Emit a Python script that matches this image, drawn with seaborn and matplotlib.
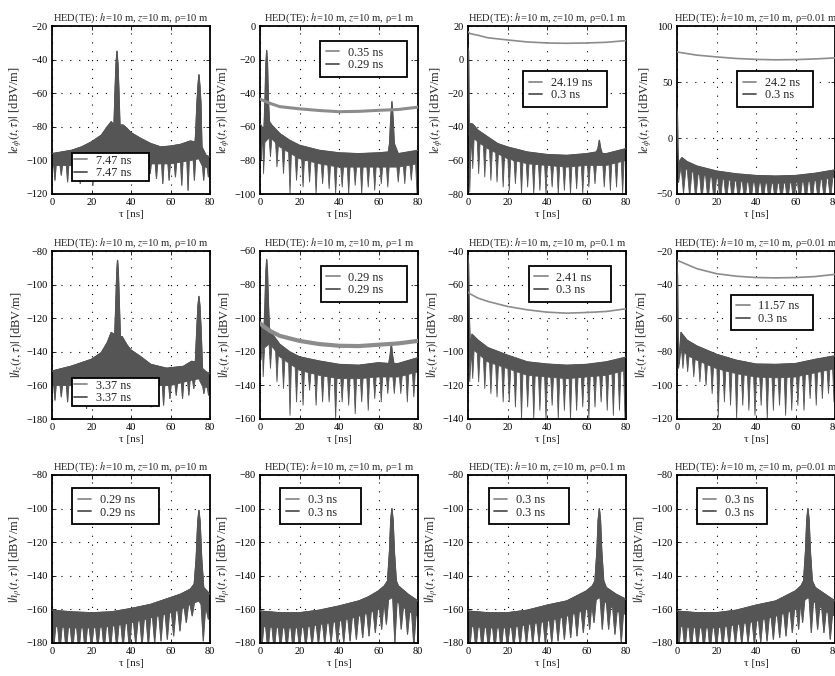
import numpy as np
import matplotlib
matplotlib.use("Agg")
import matplotlib.pyplot as plt
from matplotlib.lines import Line2D
import seaborn as sns

# ------------------------------------------------------------------
# Axis settings
# ------------------------------------------------------------------
TAU_TICKS = [0, 20, 40, 60, 80]
RHO_VALUES = ["10", "1", "0.1", "0.01"]
ROW_YLABELS = [r"$|e_{\phi}(t,\tau)|$ [dBV/m]",
               r"$|h_{z}(t,\tau)|$ [dBV/m]",
               r"$|h_{\rho}(t,\tau)|$ [dBV/m]"]
YLIMS = [[(-120, -20), (-100, 0), (-80, 20), (-50, 100)],
         [(-180, -80), (-160, -60), (-140, -40), (-120, -20)],
         [(-180, -80), (-180, -80), (-180, -80), (-180, -80)]]
YSTEPS = [[20, 20, 20, 50], [20, 20, 20, 20], [20, 20, 20, 20]]
LEGEND_LABELS = [[("7.47 ns", "7.47 ns"), ("0.35 ns", "0.29 ns"), ("24.19 ns", "0.3 ns"), ("24.2 ns", "0.3 ns")],
                 [("3.37 ns", "3.37 ns"), ("0.29 ns", "0.29 ns"), ("2.41 ns", "0.3 ns"), ("11.57 ns", "0.3 ns")],
                 [("0.29 ns", "0.29 ns"), ("0.3 ns", "0.3 ns"), ("0.3 ns", "0.3 ns"), ("0.3 ns", "0.3 ns")]]

# ------------------------------------------------------------------
# e_phi, rho = 10 m
# ------------------------------------------------------------------
ep10_hi_t = [0, 5, 10, 15, 20, 25, 28, 30, 31.4, 31.9, 32.4, 32.9, 33.4, 33.9, 34.4, 36, 38, 40, 45, 50, 55, 60, 65, 70,
             72.5, 72.9, 73.4, 73.9, 74.4, 74.9, 75.4, 75.9, 78, 80]
ep10_hi_v = [-96, -95, -94, -92, -89, -85, -80, -77, -79, -60, -43, -35, -43, -60, -79, -79, -81, -83.5, -87, -90, -92,
             -91.5, -90.5, -88.5, -89, -80, -66, -56, -49, -56, -66, -92, -97, -98]
ep10_lo_t = [0, 10, 20, 26, 30, 33, 36, 40, 50, 60, 70, 74.4, 76, 80]
ep10_lo_v = [-103, -103, -102, -101, -100, -100, -100, -101, -102, -102, -100, -99, -103, -105]
ep10_dip_t = [1.5, 4.7, 7.9, 11.1, 14.3, 17.5, 20.7, 23.9, 27.1, 36.9, 40.1, 43.3, 46.5, 49.7, 52.9, 56.1, 59.3,
              62.5, 65.7, 68.9, 72.1, 76.8, 79.2]
ep10_dip_v = [-112, -109, -113, -112, -114, -112, -115, -108, -106, -106, -108, -110, -112, -108, -111, -114, -112,
              -110, -115, -118, -112, -112, -110]

# ------------------------------------------------------------------
# e_phi, rho = 1 m
# ------------------------------------------------------------------
ep1_s_t = [0, 1, 3, 5, 10, 20, 30, 40, 50, 60, 70, 80]
ep1_s_v = [-43.5, -44, -45, -46, -48, -49.3, -50.3, -51, -50.8, -50.2, -49.7, -48.3]
ep1_hi_t = [0, 1, 2.0, 2.5, 3.0, 3.4, 3.8, 4.3, 4.8, 6, 10, 15, 20, 30, 40, 50, 60, 65, 65.6, 66.2, 66.8, 67.4, 68.0,
            70, 75, 80]
ep1_hi_v = [-58, -60, -62, -45, -22, -14.5, -22, -45, -57, -59, -64, -68, -71, -74, -75.5, -76, -75.5, -75, -70, -55,
            -45, -55, -70, -76, -75, -74]
ep1_lo_t = [0, 2, 5, 10, 20, 30, 40, 50, 60, 70, 80]
ep1_lo_v = [-68, -70, -66, -72, -79, -82, -84, -84, -84, -84, -82]
ep1_dip_t = [0.8, 1.8, 5.3, 8.6, 11.9, 15.2, 18.5, 21.8, 25.1, 28.4, 31.7, 35.0, 38.3, 41.6, 44.9, 48.2, 51.5, 54.8,
             58.1, 61.4, 64.7, 70.0, 73.3, 76.6, 79.5]
ep1_dip_v = [-80, -88, -78, -84, -88, -100, -92, -96, -93, -100, -94, -97, -100, -96, -100, -95, -100, -96, -98, -94,
             -96, -93, -94, -92, -100]

# ------------------------------------------------------------------
# e_phi, rho = 0.1 m
# ------------------------------------------------------------------
ep01_s_t = [0, 1, 5, 10, 20, 30, 40, 50, 60, 70, 80]
ep01_s_v = [16.5, 15.5, 14.5, 13, 11.7, 10.5, 9.9, 9.7, 9.9, 10.3, 11.3]
ep01_hi_t = [0, 0.3, 0.7, 1.2, 2.5, 5, 10, 15, 20, 30, 40, 50, 60, 65, 65.8, 66.5, 67.2, 68, 70, 80]
ep01_hi_v = [7, 5, -45, -38, -38.5, -42, -46, -50, -52, -55, -56.5, -57, -56, -55, -53, -48, -53, -56, -56, -53]
ep01_lo_t = [0, 1, 2, 5, 10, 20, 30, 40, 50, 60, 70, 80]
ep01_lo_v = [-50, -48, -46, -49, -53, -59, -62, -63, -64, -63, -63, -60]
ep01_dip_t = [0.9, 2.4, 5.4, 8.5, 11.6, 14.7, 17.8, 20.9, 24.0, 27.1, 30.2, 33.3, 36.4, 39.5, 42.6, 45.7, 48.8,
              51.9, 55.0, 58.1, 61.2, 64.3, 69.0, 72.1, 75.2, 78.3]
ep01_dip_v = [-79, -65, -68, -70, -72, -73, -76, -78, -74, -80, -76, -80, -78, -80, -76, -80, -78, -80, -77, -80,
              -76, -74, -76, -78, -76, -80]

# ------------------------------------------------------------------
# e_phi, rho = 0.01 m
# ------------------------------------------------------------------
ep001_s_t = [0, 1, 5, 10, 20, 30, 40, 50, 60, 70, 80]
ep001_s_v = [77, 76.5, 75.4, 74, 72.4, 71, 70.2, 69.8, 70, 70.6, 71.5]
ep001_hi_t = [0, 0.25, 0.5, 0.9, 1.5, 2.5, 5, 10, 20, 30, 40, 50, 60, 70, 80]
ep001_hi_v = [26, 20, -10, -30, -20, -17.5, -21, -25, -29.5, -32, -33.5, -34, -33.5, -31.5, -28.5]
ep001_lo_t = [0, 2, 5, 10, 20, 30, 40, 50, 60, 70, 80]
ep001_lo_v = [-36, -26, -28, -32, -36, -38.5, -40, -40.5, -40, -38, -35]
ep001_dip_t = [0.8, 3.3, 6.4, 9.5, 12.6, 15.7, 18.8, 21.9, 25.0, 28.1, 31.2, 34.3, 37.4, 40.5, 43.6, 46.7, 49.8,
               52.9, 56.0, 59.1, 62.2, 65.3, 68.4, 71.5, 74.6, 77.7]
ep001_dip_v = [-40, -50, -53, -56, -57, -57, -58, -58, -58, -58, -58, -58, -58, -58, -58, -58, -58, -58, -58, -58,
               -58, -58, -58, -57, -57, -56]

# ------------------------------------------------------------------
# h_z, rho = 10 m
# ------------------------------------------------------------------
hz10_hi_t = [0, 5, 10, 15, 20, 25, 28, 30, 31.8, 32.3, 32.8, 33.2, 33.6, 34.1, 34.6, 35.5, 38, 40, 45, 50, 58, 66.5,
             70.7, 72.6, 73.4, 73.9, 74.4, 74.9, 75.4, 76.2, 78, 80]
hz10_hi_v = [-151.5, -150, -148.5, -146.5, -144.5, -140.5, -134.5, -128.5, -130, -112, -93, -85.5, -93, -112, -131,
             -131, -136, -139, -143, -147.5, -149.8, -148.7, -145.7, -146, -125, -113, -107, -113, -125, -150, -152,
             -153]
hz10_lo_t = [0, 10, 20, 26, 30, 33, 36, 40, 50, 60, 70, 74.4, 76, 80]
hz10_lo_v = [-160, -160, -158, -156, -155, -155, -156, -157, -160, -160, -157, -156, -160, -162]
hz10_dip_t = [1.5, 4.7, 7.9, 11.1, 14.3, 17.5, 20.7, 23.9, 27.1, 37.3, 40.5, 43.7, 46.9, 50.1, 53.3, 56.5, 59.7,
              62.9, 66.1, 69.3, 71.8, 76.9, 79.3]
hz10_dip_v = [-169, -167, -170, -171, -172, -174, -170, -168, -164, -164, -166, -168, -172, -173, -170, -172, -168,
              -166, -168, -166, -162, -165, -166]

# ------------------------------------------------------------------
# h_z, rho = 1 m
# ------------------------------------------------------------------
hz1_s_t = [0, 2, 5, 10, 20, 30, 40, 50, 60, 70, 80]
hz1_s_v = [-103, -105, -107.5, -110.5, -113.5, -115.4, -116.4, -116.6, -115.8, -115, -113.5]
hz1_hi_t = [0, 1, 2.0, 2.5, 3.0, 3.4, 3.8, 4.3, 4.8, 6, 10, 15, 20, 30, 40, 50, 60, 65.2, 65.9, 66.5, 67.1, 67.8,
            70, 80]
hz1_hi_v = [-103, -106, -108, -92, -72, -65, -72, -92, -106, -109, -115.5, -120, -123, -125.5, -127.5, -128,
            -126.5, -127, -122, -115, -122, -127, -127, -123.5]
hz1_lo_t = [0, 2, 5, 10, 20, 30, 40, 50, 60, 70, 80]
hz1_lo_v = [-115, -118, -115, -123, -131, -134, -136, -136, -135, -135, -132]
hz1_dip_t = [0.6, 1.6, 5.3, 8.6, 11.9, 15.2, 18.5, 21.8, 25.1, 28.4, 31.7, 35.0, 38.3, 41.6, 44.9, 48.2, 51.5, 54.8,
             58.1, 61.4, 64.7, 68.0, 71.3, 74.6, 77.9]
hz1_dip_v = [-125, -135, -130, -138, -142, -158, -150, -152, -143, -152, -150, -150, -160, -150, -152, -157, -150,
             -155, -148, -150, -145, -145, -145, -150, -147]

# ------------------------------------------------------------------
# h_z, rho = 0.1 m
# ------------------------------------------------------------------
hz01_s_t = [0, 1, 5, 10, 20, 30, 40, 50, 60, 70, 80]
hz01_s_v = [-64.5, -65.5, -68, -70, -73, -75, -76.4, -77, -76.6, -76, -74.4]
hz01_hi_t = [0, 0.3, 0.7, 1.2, 2, 5, 10, 20, 30, 40, 50, 60, 70, 80]
hz01_hi_v = [-42.5, -48, -80, -98, -89.5, -93, -97.5, -102, -106, -107.3, -108, -107.5, -106, -103.2]
hz01_lo_t = [0, 1, 2, 5, 10, 20, 30, 40, 50, 60, 70, 80]
hz01_lo_v = [-100, -105, -98, -101, -106, -110, -114, -115, -116, -115, -114, -111]
hz01_dip_t = [0.9, 2.4, 5.4, 8.5, 11.6, 14.7, 17.8, 20.9, 24.0, 27.1, 30.2, 33.3, 36.4, 39.5, 42.6, 45.7, 48.8,
              51.9, 55.0, 58.1, 61.2, 64.3, 67.4, 70.5, 73.6, 76.7, 79.5]
hz01_dip_v = [-118, -116, -118, -122, -125, -127, -130, -130, -133, -140, -133, -140, -135, -140, -132, -140, -135,
              -140, -135, -133, -140, -133, -130, -135, -138, -135, -140]

# ------------------------------------------------------------------
# h_z, rho = 0.01 m
# ------------------------------------------------------------------
hz001_s_t = [0, 1, 5, 10, 20, 30, 40, 50, 60, 70, 80]
hz001_s_v = [-25.5, -26, -28, -30.5, -33.5, -35, -35.8, -36, -35.8, -35.2, -33.9]
hz001_hi_t = [0, 0.3, 0.6, 1.0, 2, 5, 10, 20, 30, 40, 50, 60, 70, 80]
hz001_hi_v = [-26, -35, -70, -87, -68.5, -73, -76.5, -81.5, -85, -87.3, -87.5, -87, -84.5, -82.4]
hz001_lo_t = [0, 1, 2, 5, 10, 20, 30, 40, 50, 60, 70, 80]
hz001_lo_v = [-85, -90, -78, -82, -85, -90, -93, -95, -95.5, -95, -92.5, -90]
hz001_dip_t = [0.8, 3.0, 5.4, 8.5, 11.6, 14.7, 17.8, 20.9, 24.0, 27.1, 30.2, 33.3, 36.4, 39.5, 42.6, 45.7, 48.8,
               51.9, 55.0, 58.1, 61.2, 64.3, 67.4, 70.5, 73.6, 76.7, 79.5]
hz001_dip_v = [-90, -90, -92, -95, -98, -100, -105, -119, -110, -112, -120, -112, -115, -118, -112, -120, -115,
               -112, -118, -115, -112, -115, -108, -112, -108, -105, -110]

# ------------------------------------------------------------------
# h_rho, rho = 10 m
# ------------------------------------------------------------------
hr10_hi_t = [0, 10, 20, 30, 40, 50, 60, 65, 70, 72.0, 73.0, 73.8, 74.4, 75.0, 75.8, 76.8, 80]
hr10_hi_v = [-160.5, -161.5, -162, -161.5, -159.5, -157, -153, -151, -148, -145, -130, -108, -101, -108, -130, -147,
             -151]
hr10_lo_t = [0, 10, 20, 30, 40, 50, 60, 65, 70, 74.4, 77, 80]
hr10_lo_v = [-170, -171, -171, -170, -168, -165, -162, -160, -157, -155, -160, -160]
hr10_dip_t = [0.8, 4.0, 7.2, 10.4, 13.6, 16.8, 20.0, 23.2, 26.4, 29.6, 32.8, 36.0, 39.2, 42.4, 45.6, 48.8, 52.0,
              55.2, 58.4, 61.6, 64.8, 68.0, 71.0, 76.6, 79.2]
hr10_dip_v = [-184, -185, -185, -185, -185, -185, -184, -183, -184, -184, -183, -183, -184, -181, -182, -182, -180,
              -179, -178, -176, -173, -168, -164, -179, -166]

# ------------------------------------------------------------------
# h_rho, rho = 1 m
# ------------------------------------------------------------------
hr1_hi_t = [0, 10, 20, 30, 40, 50, 55, 60, 63, 64.6, 65.6, 66.2, 66.8, 67.4, 68.0, 69.0, 70, 75, 80]
hr1_hi_v = [-161, -162, -162, -160.5, -158, -155, -152.5, -149, -146, -143, -125, -107, -100, -107, -125, -143, -146,
            -151, -155]
hr1_lo_t = [0, 10, 20, 30, 40, 50, 60, 64, 66.8, 70, 75, 80]
hr1_lo_v = [-170, -171, -171, -169, -167, -164, -160, -155, -153, -156, -161, -164]
hr1_dip_t = [0.8, 4.0, 7.2, 10.4, 13.6, 16.8, 20.0, 23.2, 26.4, 29.6, 32.8, 36.0, 39.2, 42.4, 45.6, 48.8, 52.0,
             55.2, 58.4, 61.6, 64.0, 68.3, 71.5, 74.7, 77.9]
hr1_dip_v = [-185, -185, -185, -184, -184, -185, -183, -183, -182, -181, -181, -180, -181, -180, -179, -178, -177,
             -176, -174, -172, -169, -180, -172, -175, -182]

# ------------------------------------------------------------------
# h_rho, rho = 0.1 m
# ------------------------------------------------------------------
hr01_hi_t = [0, 10, 20, 30, 40, 50, 55, 60, 63, 64.3, 65.3, 65.9, 66.5, 67.1, 67.7, 68.7, 70, 75, 80]
hr01_hi_v = [-161, -162, -162, -160.5, -157.5, -155, -152, -149, -146, -143, -125, -107, -100, -107, -125, -143,
             -147, -151, -154]
hr01_lo_t = [0, 10, 20, 30, 40, 50, 60, 64, 66.5, 70, 75, 80]
hr01_lo_v = [-170, -171, -171, -169, -167, -164, -160, -155, -153, -156, -161, -163]
hr01_dip_t = [0.8, 4.0, 7.2, 10.4, 13.6, 16.8, 20.0, 23.2, 26.4, 29.6, 32.8, 36.0, 39.2, 42.4, 45.6, 48.8, 52.0,
              55.2, 58.4, 61.6, 63.8, 68.0, 71.2, 74.4, 77.6]
hr01_dip_v = [-185, -184, -185, -184, -184, -185, -183, -183, -182, -181, -181, -180, -181, -180, -179, -178, -177,
              -176, -174, -172, -168, -172, -172, -175, -180]

# ------------------------------------------------------------------
# h_rho, rho = 0.01 m
# ------------------------------------------------------------------
hr001_hi_t = [0, 10, 20, 30, 40, 50, 55, 60, 62.8, 64.1, 65.1, 65.7, 66.3, 66.9, 67.5, 68.5, 70, 75, 80]
hr001_hi_v = [-161, -162, -162, -160.5, -157.5, -155, -152, -149, -146, -143, -125, -107, -100, -107, -125, -143,
              -147, -151, -155]
hr001_lo_t = [0, 10, 20, 30, 40, 50, 60, 64, 66.3, 70, 75, 80]
hr001_lo_v = [-170, -171, -171, -169, -167, -164, -160, -155, -153, -156, -161, -164]
hr001_dip_t = [0.8, 4.0, 7.2, 10.4, 13.6, 16.8, 20.0, 23.2, 26.4, 29.6, 32.8, 36.0, 39.2, 42.4, 45.6, 48.8, 52.0,
               55.2, 58.4, 61.6, 63.6, 68.0, 71.2, 74.4, 77.6]
hr001_dip_v = [-185, -184, -185, -184, -184, -185, -183, -183, -182, -181, -181, -180, -181, -180, -179, -178,
               -177, -176, -174, -172, -168, -174, -172, -174, -178]

# Table of panels (row, column) built from the arrays above
PANELS = [
    [dict(s=None, hi=(ep10_hi_t, ep10_hi_v), lo=(ep10_lo_t, ep10_lo_v), dip=(ep10_dip_t, ep10_dip_v), hw=0.6, slw=1.2),
     dict(s=(ep1_s_t, ep1_s_v), hi=(ep1_hi_t, ep1_hi_v), lo=(ep1_lo_t, ep1_lo_v), dip=(ep1_dip_t, ep1_dip_v), hw=0.7, slw=2.2),
     dict(s=(ep01_s_t, ep01_s_v), hi=(ep01_hi_t, ep01_hi_v), lo=(ep01_lo_t, ep01_lo_v), dip=(ep01_dip_t, ep01_dip_v), hw=0.7, slw=1.2),
     dict(s=(ep001_s_t, ep001_s_v), hi=(ep001_hi_t, ep001_hi_v), lo=(ep001_lo_t, ep001_lo_v), dip=(ep001_dip_t, ep001_dip_v), hw=1.2, slw=1.2)],
    [dict(s=None, hi=(hz10_hi_t, hz10_hi_v), lo=(hz10_lo_t, hz10_lo_v), dip=(hz10_dip_t, hz10_dip_v), hw=0.6, slw=1.2),
     dict(s=(hz1_s_t, hz1_s_v), hi=(hz1_hi_t, hz1_hi_v), lo=(hz1_lo_t, hz1_lo_v), dip=(hz1_dip_t, hz1_dip_v), hw=0.7, slw=3.0),
     dict(s=(hz01_s_t, hz01_s_v), hi=(hz01_hi_t, hz01_hi_v), lo=(hz01_lo_t, hz01_lo_v), dip=(hz01_dip_t, hz01_dip_v), hw=0.7, slw=1.2),
     dict(s=(hz001_s_t, hz001_s_v), hi=(hz001_hi_t, hz001_hi_v), lo=(hz001_lo_t, hz001_lo_v), dip=(hz001_dip_t, hz001_dip_v), hw=0.7, slw=1.2)],
    [dict(s=None, hi=(hr10_hi_t, hr10_hi_v), lo=(hr10_lo_t, hr10_lo_v), dip=(hr10_dip_t, hr10_dip_v), hw=1.1, slw=1.2),
     dict(s=None, hi=(hr1_hi_t, hr1_hi_v), lo=(hr1_lo_t, hr1_lo_v), dip=(hr1_dip_t, hr1_dip_v), hw=1.1, slw=1.2),
     dict(s=None, hi=(hr01_hi_t, hr01_hi_v), lo=(hr01_lo_t, hr01_lo_v), dip=(hr01_dip_t, hr01_dip_v), hw=1.1, slw=1.2),
     dict(s=None, hi=(hr001_hi_t, hr001_hi_v), lo=(hr001_lo_t, hr001_lo_v), dip=(hr001_dip_t, hr001_dip_v), hw=1.1, slw=1.2)],
]

# Legend boxes: (left, top, width) in axes fraction, and inner padding
LEGEND_BOXES = [[(0.127, 0.243, 0.487), (0.38, 0.91, 0.55), (0.35, 0.73, 0.53), (0.38, 0.73, 0.48)],
                [(0.127, 0.243, 0.553), (0.386, 0.91, 0.544), (0.386, 0.91, 0.52), (0.34, 0.74, 0.52)],
                [(0.127, 0.92, 0.553), (0.127, 0.92, 0.513), (0.13, 0.92, 0.51), (0.127, 0.92, 0.443)]]
LEGEND_PADS = [[0.12, 0.45, 0.45, 0.45], [0.12, 0.45, 0.45, 0.45], [0.45, 0.45, 0.45, 0.45]]

# ------------------------------------------------------------------
# Style
# ------------------------------------------------------------------
sns.set_theme(style="ticks")
plt.rcParams["font.family"] = ["Liberation Serif", "DejaVu Serif"]
plt.rcParams["mathtext.fontset"] = "stix"
plt.rcParams["axes.unicode_minus"] = True

DARK = "#555555"
LIGHT = "#8c8c8c"

FIG_W, FIG_H = 835, 676
COL_LEFT = [52, 260, 468, 677]
ROW_TOP = [26, 251, 475]
AX_W, AX_H = 158, 168


def lower_outline(lo_t, lo_v, dip_t, dip_v, hw):
    """Lower outline of the oscillating band: envelope knots plus the narrow dips."""
    lo_t = np.asarray(lo_t, float)
    lo_v = np.asarray(lo_v, float)
    dip_t = np.asarray(dip_t, float)
    pts = []
    for t, v in zip(lo_t, lo_v):
        if t in (lo_t[0], lo_t[-1]) or np.all(np.abs(t - dip_t) > hw):
            pts.append((t, v))
    for d, v in zip(dip_t, dip_v):
        for t in (d - hw, d + hw):
            t = min(max(t, lo_t[0]), lo_t[-1])
            pts.append((t, float(np.interp(t, lo_t, lo_v))))
        pts.append((d, v))
    pts.sort()
    arr = np.array(pts)
    return arr[:, 0], arr[:, 1]


fig = plt.figure(figsize=(FIG_W / 100, FIG_H / 100), dpi=100)

for r in range(3):
    for c in range(4):
        left = COL_LEFT[c] / FIG_W
        bottom = 1 - (ROW_TOP[r] + AX_H) / FIG_H
        ax = fig.add_axes([left, bottom, AX_W / FIG_W, AX_H / FIG_H])
        p = PANELS[r][c]

        hi_t, hi_v = p["hi"]
        lt, lv = lower_outline(p["lo"][0], p["lo"][1], p["dip"][0], p["dip"][1], p["hw"])
        xs = np.concatenate([hi_t, lt[::-1]])
        ys = np.concatenate([hi_v, lv[::-1]])

        # first series (lighter)
        if p["s"] is not None:
            sns.lineplot(x=p["s"][0], y=p["s"][1], ax=ax, color=LIGHT, lw=p["slw"],
                         estimator=None, sort=False, zorder=3)
        else:
            ax.fill(xs, ys, color=LIGHT, lw=0.8, zorder=2)
        # second series (darker, oscillating)
        ax.fill(xs, ys, color=DARK, lw=0.6, zorder=2.5)
        sns.lineplot(x=hi_t, y=hi_v, ax=ax, color=DARK, lw=0.9, estimator=None, sort=False, zorder=2.6)

        ymin, ymax = YLIMS[r][c]
        ax.set_xlim(0, 80)
        ax.set_ylim(ymin, ymax)
        ax.set_xticks(TAU_TICKS)
        ax.set_yticks(np.arange(ymin, ymax + 1, YSTEPS[r][c]))
        ax.grid(True, color="black", linestyle=(0, (1, 7)), lw=0.8)
        ax.set_axisbelow(True)
        for sp in ax.spines.values():
            sp.set_visible(True)
            sp.set_color("black")
            sp.set_linewidth(1.3)
        ax.tick_params(direction="in", top=True, right=True, length=3, width=0.6,
                       labelsize=7.5, pad=3, colors="black")

        ax.set_title(r"HED(TE): $h$=10 m, $z$=10 m, ρ=" + RHO_VALUES[c] + " m",
                     fontsize=7.6, pad=4)
        ax.set_xlabel(r"τ [ns]", fontsize=8, labelpad=2)
        ax.set_ylabel(ROW_YLABELS[r], fontsize=9, labelpad=2)

        lab1, lab2 = LEGEND_LABELS[r][c]
        lx, ly, lw_ = LEGEND_BOXES[r][c]
        handles = [Line2D([], [], color=LIGHT, lw=1.3), Line2D([], [], color=DARK, lw=1.3)]
        leg = ax.legend(handles, [lab1, lab2], loc="upper left", mode="expand",
                        bbox_to_anchor=(lx, ly - 0.3, lw_, 0.3), borderaxespad=0,
                        fontsize=8.8, frameon=True, fancybox=False, framealpha=1,
                        handlelength=1.1, handletextpad=0.7, labelspacing=0.05,
                        borderpad=LEGEND_PADS[r][c])
        leg.get_frame().set_edgecolor("black")
        leg.get_frame().set_linewidth(1.3)
        leg.set_zorder(5)

fig.savefig("out.png", dpi=100)
